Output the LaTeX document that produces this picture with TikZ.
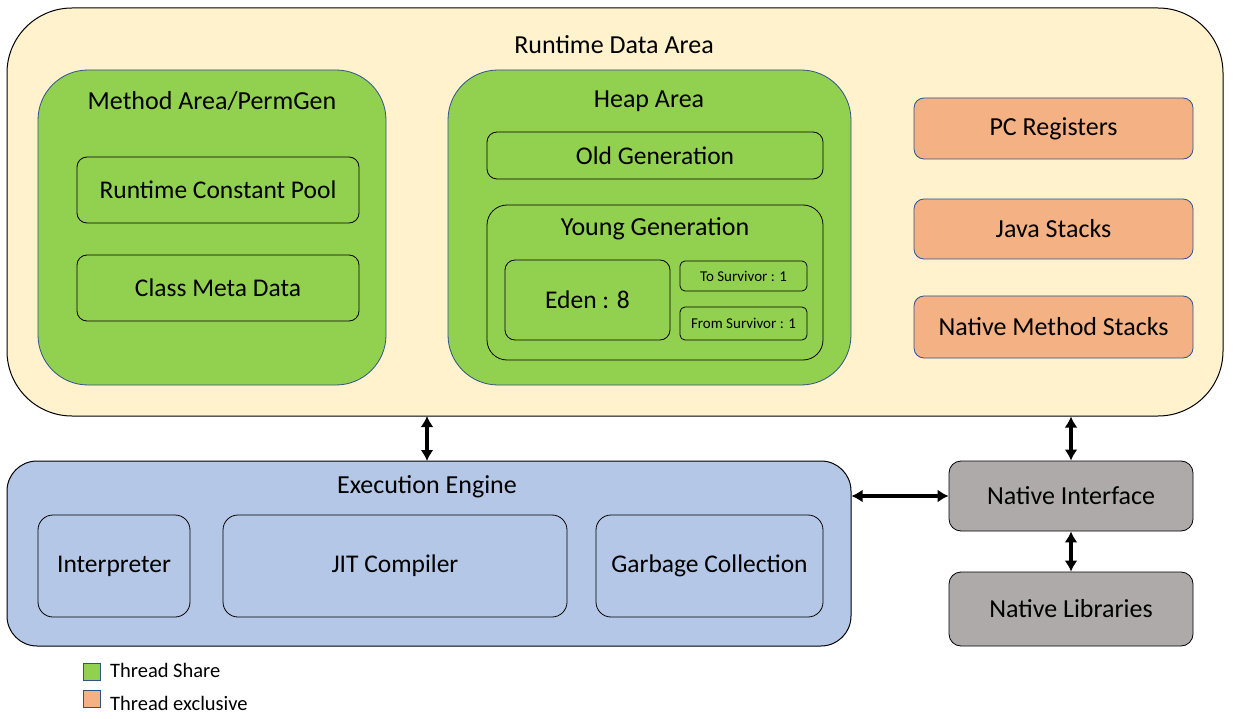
\documentclass[tikz,border=0pt]{standalone}
\usepackage{fontspec}
\setmainfont{Carlito}
\usetikzlibrary{arrows.meta}
\definecolor{cream}{HTML}{FFF2CC}
\definecolor{sgreen}{HTML}{92D050}
\definecolor{sorange}{HTML}{F4B183}
\definecolor{sblue}{HTML}{B4C7E7}
\definecolor{sgray}{HTML}{AEAAAA}
\definecolor{edgeblue}{HTML}{2F528F}
\tikzset{
  area/.style={draw=black, line width=1pt, fill=cream, rounded corners=65pt, inner sep=0pt},
  greenarea/.style={draw=edgeblue, line width=0.8pt, fill=sgreen, rounded corners=50pt, inner sep=0pt},
  inner/.style={draw=black, line width=0.8pt, rounded corners=10pt, inner sep=0pt, font=\fontsize{25.5}{28}\selectfont},
  excl/.style={draw=edgeblue, line width=0.8pt, fill=sorange, rounded corners=10pt, inner sep=0pt, font=\fontsize{26}{28}\selectfont},
  native/.style={draw=black, line width=0.8pt, fill=sgray, rounded corners=12pt, inner sep=0pt, font=\fontsize{26}{28}\selectfont},
  title/.style={inner sep=0pt, font=\fontsize{26}{28}\selectfont},
  small/.style={draw=black, line width=0.8pt, rounded corners=5pt, inner sep=0pt, font=\fontsize{15}{17}\selectfont},
  link/.style={line width=3.5pt, {Latex[length=11pt,width=13pt]}-{Latex[length=11pt,width=13pt]}},
  legbox/.style={draw=edgeblue, line width=0.8pt, minimum size=17pt, inner sep=0pt},
  legtext/.style={anchor=west, inner sep=0pt, font=\fontsize{20.5}{22}\selectfont},
}
\begin{document}
\begin{tikzpicture}[x=1pt,y=-1pt]
\useasboundingbox (0,0) rectangle (1237,719);
\fill[white] (0,0) rectangle (1237,719);
% Runtime data area
\node[area, minimum width=1216pt, minimum height=408pt] (rda) at (615,212) {};
\node[title] (rdat) at (614,45) {Runtime Data Area};
% Method area
\node[greenarea, minimum width=348pt, minimum height=315pt] (ma) at (212,227.5) {};
\node[title] (mat) at (212,101) {Method Area/PermGen};
\node[inner, minimum width=282pt, minimum height=66pt] (rcp) at (218,190) {Runtime Constant Pool};
\node[inner, minimum width=282pt, minimum height=66pt] (cmd) at (218,288) {Class Meta Data};
% Heap area
\node[greenarea, minimum width=403pt, minimum height=315pt] (heap) at (649.5,227.5) {};
\node[title] (heapt) at (649,101) {Heap Area};
\node[inner, minimum width=336pt, minimum height=47pt] (old) at (655,155.5) {Old Generation};
\node[inner, rounded corners=20pt, minimum width=336pt, minimum height=155pt] (young) at (655,282.5) {};
\node[title] (youngt) at (655,229) {Young Generation};
\node[inner, minimum width=165pt, minimum height=80pt] (eden) at (587.5,300) {Eden : 8};
\node[small, minimum width=127pt, minimum height=30pt] (to) at (743.5,276) {To Survivor : 1};
\node[small, minimum width=127pt, minimum height=33pt] (from) at (743.5,323.5) {From Survivor : 1};
% Thread exclusive
\node[excl, minimum width=279pt, minimum height=61pt] (pc) at (1053.5,128.5) {PC Registers};
\node[excl, minimum width=279pt, minimum height=60pt] (js) at (1053.5,229) {Java Stacks};
\node[excl, minimum width=279pt, minimum height=62pt] (nms) at (1053.5,327) {Native Method Stacks};
% Execution engine
\node[draw=black, line width=1pt, fill=sblue, rounded corners=30pt, inner sep=0pt, minimum width=844pt, minimum height=185pt] (ee) at (429,553.5) {};
\node[title] (eet) at (427,487) {Execution Engine};
\node[inner, rounded corners=15pt, minimum width=152pt, minimum height=102pt] (interp) at (114,566) {Interpreter};
\node[inner, rounded corners=15pt, minimum width=344pt, minimum height=102pt] (jit) at (395,566) {JIT Compiler};
\node[inner, rounded corners=15pt, minimum width=227pt, minimum height=102pt] (gc) at (709.5,566) {Garbage Collection};
% Native
\node[native, minimum width=244pt, minimum height=70pt] (ni) at (1071,496) {Native Interface};
\node[native, minimum width=244pt, minimum height=74pt] (nl) at (1071,609) {Native Libraries};
% connectors
\coordinate (a1) at (427,416);
\coordinate (a2) at (427,461);
\draw[link] (a1) -- (a2);
\draw[link] (ni.north |- rda.south) -- (ni.north);
\draw[link] (ee.east |- ni.west) -- (ni.west);
\draw[link] (ni.south) -- (nl.north);
% legend
\node[legbox, fill=sgreen] (lg1) at (91.5,671.5) {};
\node[legtext] (lt1) at (110,670) {Thread Share};
\node[legbox, fill=sorange] (lg2) at (91.5,698.5) {};
\node[legtext] (lt2) at (110,703) {Thread exclusive};
\end{tikzpicture}
\end{document}
